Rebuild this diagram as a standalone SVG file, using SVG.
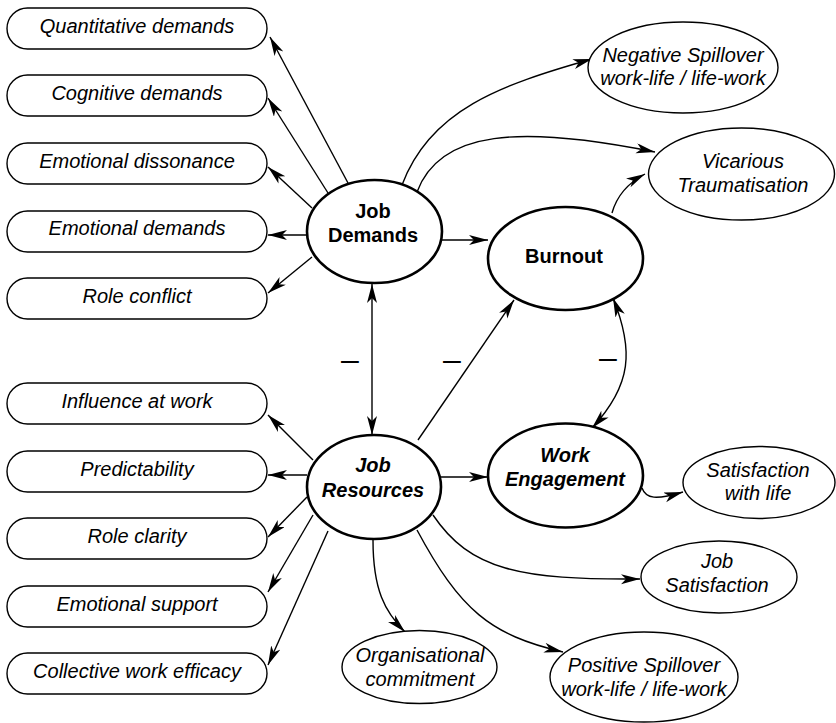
<svg xmlns="http://www.w3.org/2000/svg" width="836" height="723" viewBox="0 0 836 723">
<defs>
<style>
.box{fill:#fff;stroke:#000;stroke-width:1.4}
.el{fill:#fff;stroke:#000;stroke-width:1.4}
.main{fill:#fff;stroke:#000;stroke-width:2.6}
.t{font-family:"Liberation Sans",Arial,sans-serif;font-size:20px;font-style:italic;text-anchor:middle;fill:#000}
.b{font-family:"Liberation Sans",Arial,sans-serif;font-size:20px;font-weight:bold;text-anchor:middle;fill:#000}
.bi{font-family:"Liberation Sans",Arial,sans-serif;font-size:20px;font-weight:bold;font-style:italic;text-anchor:middle;fill:#000}
.c{fill:none;stroke:#000;stroke-width:1.4}
.minus{font-family:"Liberation Sans",Arial,sans-serif;font-size:32px;text-anchor:middle;fill:#000}
</style>
<marker id="ah" markerUnits="userSpaceOnUse" markerWidth="22" markerHeight="12" refX="19" refY="5" orient="auto-start-reverse">
<path d="M0,0 L19,5 L0,10 L5,5 Z" fill="#000"/>
</marker>
</defs>

<g id="connectors">
<path class="c" d="M348,183 L270,37" marker-end="url(#ah)"/>
<path class="c" d="M328,193 L268,98" marker-end="url(#ah)"/>
<path class="c" d="M312,208 L268,167" marker-end="url(#ah)"/>
<path class="c" d="M307,235 L268,235" marker-end="url(#ah)"/>
<path class="c" d="M312,257 L268,293" marker-end="url(#ah)"/>
<path class="c" d="M313,460 L268,415" marker-end="url(#ah)"/>
<path class="c" d="M307,475 L268,475" marker-end="url(#ah)"/>
<path class="c" d="M307,497 L268,537" marker-end="url(#ah)"/>
<path class="c" d="M313,515 L268,592" marker-end="url(#ah)"/>
<path class="c" d="M328,531 L268,665" marker-end="url(#ah)"/>
<path class="c" d="M442,240 L488,240" marker-end="url(#ah)"/>
<path class="c" d="M372,284 L372,435" marker-start="url(#ah)" marker-end="url(#ah)"/>
<path class="c" d="M418,440 L514,300" marker-end="url(#ah)"/>
<path class="c" d="M441,477 L488,477" marker-end="url(#ah)"/>
<path class="c" d="M613,298 C634,350 632,385 592,428" marker-start="url(#ah)" marker-end="url(#ah)"/>
<path class="c" d="M402,185 C430,110 500,85 592,59" marker-end="url(#ah)"/>
<path class="c" d="M417,192 C440,130 520,125 655,152" marker-end="url(#ah)"/>
<path class="c" d="M612,213 C617,195 628,183 645,174" marker-end="url(#ah)"/>
<path class="c" d="M642,488 C646,499 656,500 683,492" marker-end="url(#ah)"/>
<path class="c" d="M433,515 C470,570 520,580 640,579" marker-end="url(#ah)"/>
<path class="c" d="M417,530 C460,610 490,635 563,652" marker-end="url(#ah)"/>
<path class="c" d="M373,540 C373,590 385,612 405,632" marker-end="url(#ah)"/>
</g>

<g id="minus-labels">
<text class="minus" x="350" y="370">–</text>
<text class="minus" x="452" y="370">–</text>
<text class="minus" x="608" y="368">–</text>
</g>

<g id="quantitative"><rect class="box" x="7" y="8" width="260" height="41" rx="20.5"/><text class="t" x="137" y="33">Quantitative demands</text></g>
<g id="cognitive"><rect class="box" x="7" y="75" width="260" height="41" rx="20.5"/><text class="t" x="137" y="100">Cognitive demands</text></g>
<g id="dissonance"><rect class="box" x="7" y="143" width="260" height="41" rx="20.5"/><text class="t" x="137" y="168">Emotional dissonance</text></g>
<g id="emo-demands"><rect class="box" x="7" y="211" width="260" height="41" rx="20.5"/><text class="t" x="137" y="235">Emotional demands</text></g>
<g id="role-conflict"><rect class="box" x="7" y="278" width="260" height="41" rx="20.5"/><text class="t" x="137" y="303">Role conflict</text></g>

<g id="influence"><rect class="box" x="7" y="383" width="260" height="41" rx="20.5"/><text class="t" x="137" y="408">Influence at work</text></g>
<g id="predictability"><rect class="box" x="7" y="451" width="260" height="41" rx="20.5"/><text class="t" x="137" y="476">Predictability</text></g>
<g id="role-clarity"><rect class="box" x="7" y="518" width="260" height="41" rx="20.5"/><text class="t" x="137" y="543">Role clarity</text></g>
<g id="emo-support"><rect class="box" x="7" y="586" width="260" height="41" rx="20.5"/><text class="t" x="137" y="611">Emotional support</text></g>
<g id="collective"><rect class="box" x="7" y="653" width="260" height="41" rx="20.5"/><text class="t" x="137" y="678">Collective work efficacy</text></g>

<g id="job-demands"><ellipse class="main" cx="374.5" cy="231.5" rx="67.5" ry="51.5"/><text class="b" x="373" y="218">Job</text><text class="b" x="373" y="242">Demands</text></g>
<g id="job-resources"><ellipse class="main" cx="374" cy="487" rx="67" ry="52"/><text class="bi" x="373" y="472">Job</text><text class="bi" x="373" y="497">Resources</text></g>
<g id="burnout"><ellipse class="main" cx="565.5" cy="258.5" rx="77.5" ry="51.5"/><text class="b" x="564" y="263">Burnout</text></g>
<g id="work-engagement"><ellipse class="main" cx="565.5" cy="475.5" rx="77.5" ry="52"/><text class="bi" x="565" y="462">Work</text><text class="bi" x="565" y="486">Engagement</text></g>

<g id="neg-spillover"><ellipse class="el" cx="683" cy="67.5" rx="95" ry="45.5"/><text class="t" x="683" y="62">Negative Spillover</text><text class="t" x="683" y="85">work-life / life-work</text></g>
<g id="vicarious"><ellipse class="el" cx="741.5" cy="174" rx="93" ry="46"/><text class="t" x="743" y="168">Vicarious</text><text class="t" x="743" y="192">Traumatisation</text></g>
<g id="sat-life"><ellipse class="el" cx="759" cy="482.5" rx="76" ry="36"/><text class="t" x="758" y="477">Satisfaction</text><text class="t" x="758" y="500">with life</text></g>
<g id="job-sat"><ellipse class="el" cx="719" cy="577" rx="78" ry="36"/><text class="t" x="717" y="568">Job</text><text class="t" x="717" y="592">Satisfaction</text></g>
<g id="pos-spillover"><ellipse class="el" cx="644" cy="677" rx="94" ry="45"/><text class="t" x="644" y="672">Positive Spillover</text><text class="t" x="644" y="696">work-life / life-work</text></g>
<g id="org-commitment"><ellipse class="el" cx="419.5" cy="667" rx="77.5" ry="36.5"/><text class="t" x="420" y="662">Organisational</text><text class="t" x="420" y="686">commitment</text></g>
</svg>
